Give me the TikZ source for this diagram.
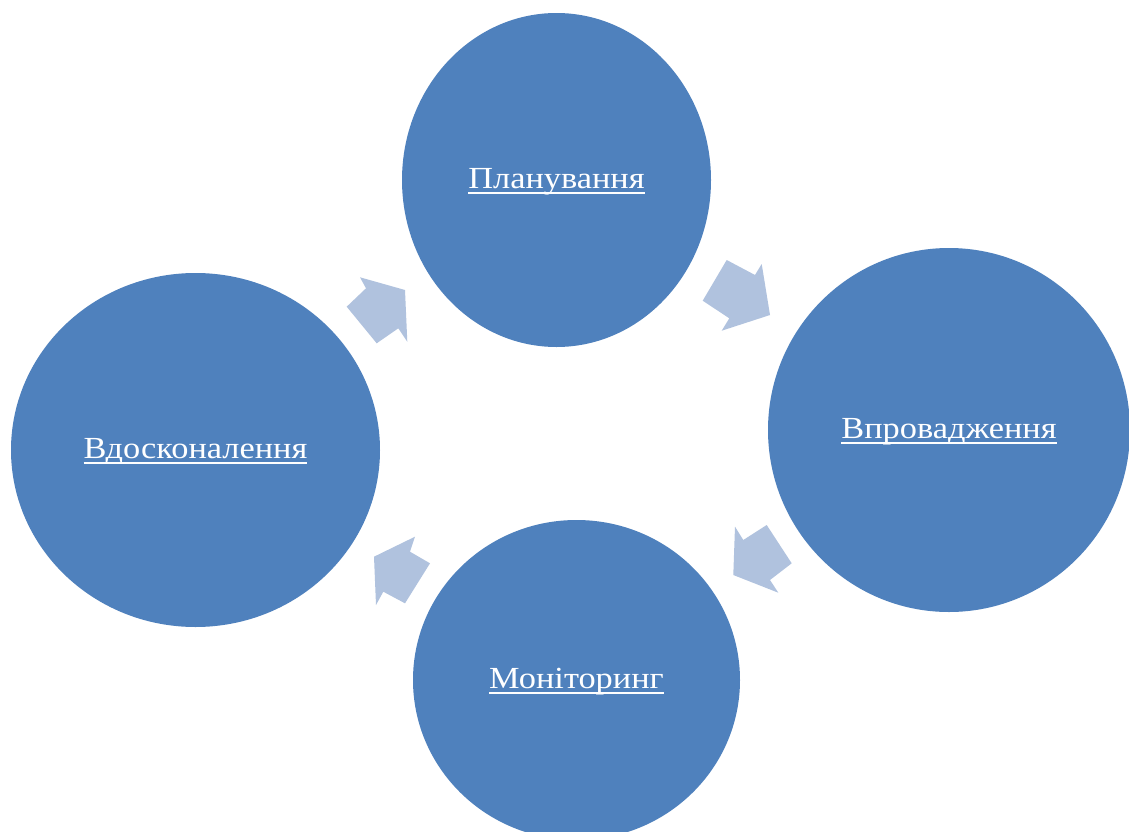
\documentclass[tikz,border=0pt]{standalone}
\usepackage{fontspec}
\setmainfont{Liberation Serif}
\usetikzlibrary{shapes.geometric}
\definecolor{circblue}{RGB}{79,129,189}
\definecolor{arrblue}{RGB}{176,194,222}
\tikzset{
  phase/.style={ellipse, fill=circblue, draw=none, inner sep=0pt, text=white,
    text height=16pt, text depth=4pt,
    font=\fontsize{23}{27}\selectfont},
  blockarrow/.style={fill=arrblue, draw=none},
}
\newcommand{\ul}[1]{\setbox0\hbox{\scalebox{1.12}[1]{#1}}\rlap{\rule[-4.6pt]{\wd0}{1.4pt}}\box0}
\begin{document}
\begin{tikzpicture}[x=0.75pt, y=-0.75pt]
\useasboundingbox (0,0) rectangle (1129,832);
\fill[white] (0,0) rectangle (1129,832);
\begin{scope}
\clip (0,0) rectangle (1129,832);
\node[phase, minimum width=309*0.75pt, minimum height=334*0.75pt] (plan) at (556.5,180) {\ul{Планування}};
\node[phase, minimum width=362*0.75pt, minimum height=364*0.75pt] (impl) at (949,430) {\ul{Впровадження}};
\node[phase, minimum width=327*0.75pt, minimum height=320*0.75pt] (mon) at (576.5,680) {\ul{Моніторинг}};
\node[phase, minimum width=369*0.75pt, minimum height=354*0.75pt] (impr) at (195.5,450) {\ul{Вдосконалення}};
\end{scope}
% block arrows
\fill[blockarrow] (360,277.3) -- (405,290) -- (407.3,341.7) -- (398.3,328.3) -- (376.7,343.3) -- (346.7,306.7) -- (366,288.3) -- cycle;
\fill[blockarrow] (726.7,260) -- (755,275) -- (761.7,264) -- (770,315) -- (721.7,330.7) -- (729.3,318.3) -- (702.7,300.7) -- cycle;
\fill[blockarrow] (735,526.7) -- (743.3,540) -- (766.7,525) -- (791.7,563.3) -- (770,580) -- (778.3,592.7) -- (733.3,575) -- cycle;
\fill[blockarrow] (415,536.7) -- (410,551.7) -- (430,563.3) -- (405,603.3) -- (383.3,591.7) -- (376,605) -- (374,556.7) -- cycle;
\end{tikzpicture}
\end{document}
